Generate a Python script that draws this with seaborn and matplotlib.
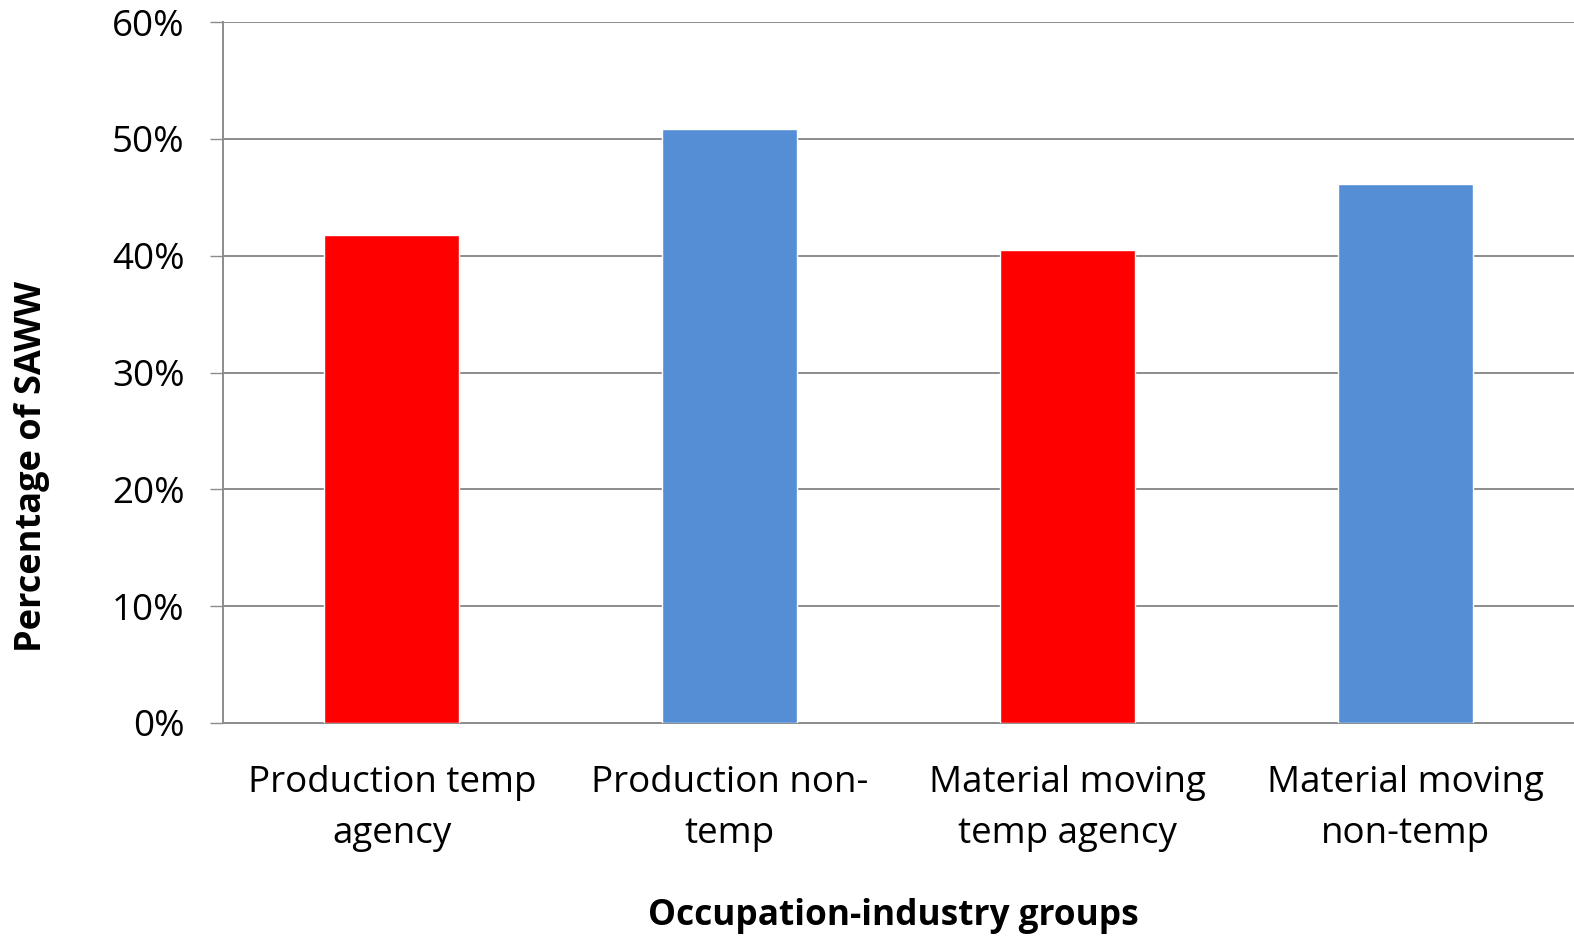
import matplotlib
matplotlib.use("Agg")
import matplotlib.pyplot as plt
import seaborn as sns
from matplotlib.ticker import PercentFormatter

categories = ["Production temp\nagency", "Production non-\ntemp",
              "Material moving\ntemp agency", "Material moving\nnon-temp"]
values = [41.8, 50.8, 40.5, 46.1]
colors = ["#FF0000", "#558ED5", "#FF0000", "#558ED5"]
yticks = [0, 10, 20, 30, 40, 50, 60]

sns.set_style("white")
plt.rcParams["font.family"] = ["Open Sans", "DejaVu Sans"]
plt.rcParams["text.color"] = "black"
plt.rcParams["xtick.color"] = "black"
plt.rcParams["ytick.color"] = "black"
plt.rcParams["axes.labelcolor"] = "black"

fig = plt.figure(figsize=(15.74, 9.36), dpi=100)
ax = fig.add_axes([223/1574, 1 - 723/936, 1 - 223/1574, (723 - 22)/936])

sns.barplot(x=categories, y=values, hue=categories, palette=colors,
            width=0.4, legend=False, ax=ax, saturation=1, zorder=3)

ax.set_ylim(0, 60)
ax.set_xlim(-0.5, 3.5)
ax.set_yticks(yticks)
ax.yaxis.set_major_formatter(PercentFormatter(decimals=0))
ax.grid(axis="y", color="#8C8C8C", linewidth=1.4, zorder=0)
ax.set_axisbelow(True)
for s in ["top", "right"]:
    ax.spines[s].set_visible(False)
for s in ["left", "bottom"]:
    ax.spines[s].set_color("#8C8C8C")
    ax.spines[s].set_linewidth(1.4)

ax.tick_params(axis="y", length=9.5, width=1.0, color="#8C8C8C", pad=18,
               labelsize=26.5, left=True, labelcolor="black")
ax.tick_params(axis="x", length=0, pad=30, labelsize=26.5, labelcolor="black")
for lab in ax.get_xticklabels():
    lab.set_linespacing(1.55)

ax.set_ylabel("Percentage of SAWW", fontsize=26, fontweight="bold")
ax.yaxis.label.set_va("center")
ax.yaxis.set_label_coords((32 - 223) / 1351, (723 - 466) / 701)
ax.set_xlabel("Occupation-industry groups", fontsize=25.4, fontweight="bold")
ax.xaxis.label.set_va("center")
ax.xaxis.set_label_coords((893 - 223) / 1351, (723 - 916) / 701)

fig.savefig("out.png", dpi=100)
